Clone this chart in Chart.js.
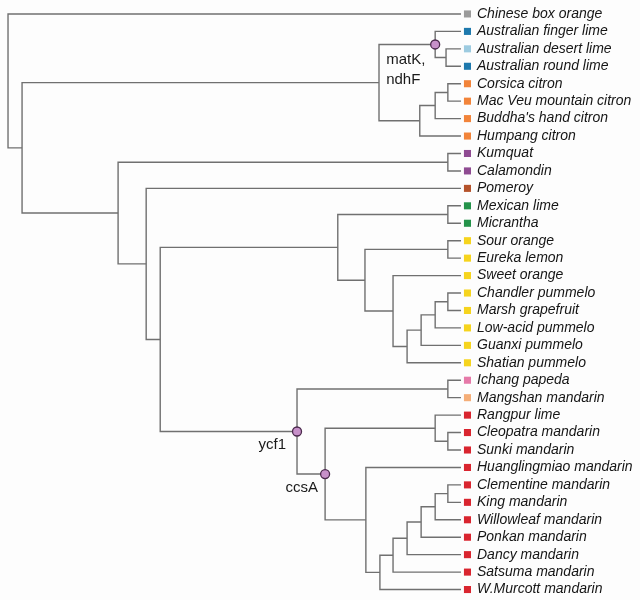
<!DOCTYPE html>
<html>
<head>
<meta charset="utf-8">
<script src="https://cdn.jsdelivr.net/npm/chart.js@4.4.1/dist/chart.umd.min.js"></script>
<style>
  body { margin: 0; background: #fdfdfd; }
  canvas { display: block; }
</style>
</head>
<body>
<canvas id="tree" width="640" height="600"></canvas>
<script>
// 잎 (위에서 아래 순서)
const leafNames = [
    'Chinese box orange', 'Australian finger lime', 'Australian desert lime', 'Australian round lime',
    'Corsica citron', 'Mac Veu mountain citron', "Buddha's hand citron", 'Humpang citron',
    'Kumquat', 'Calamondin', 'Pomeroy', 'Mexican lime', 'Micrantha',
    'Sour orange', 'Eureka lemon', 'Sweet orange', 'Chandler pummelo', 'Marsh grapefruit',
    'Low-acid pummelo', 'Guanxi pummelo', 'Shatian pummelo', 'Ichang papeda', 'Mangshan mandarin',
    'Rangpur lime', 'Cleopatra mandarin', 'Sunki mandarin', 'Huanglingmiao mandarin',
    'Clementine mandarin', 'King mandarin', 'Willowleaf mandarin', 'Ponkan mandarin',
    'Dancy mandarin', 'Satsuma mandarin', 'W.Murcott mandarin'
];
const leafGroups = [
    'box', 'austral', 'desert', 'austral',
    'citron', 'citron', 'citron', 'citron',
    'kumquat', 'kumquat', 'pomeroy', 'lime', 'lime',
    'sweet', 'sweet', 'sweet', 'sweet', 'sweet',
    'sweet', 'sweet', 'sweet', 'papeda', 'mangshan',
    'mandarin', 'mandarin', 'mandarin', 'mandarin',
    'mandarin', 'mandarin', 'mandarin', 'mandarin',
    'mandarin', 'mandarin', 'mandarin'
];

// 내부 노드: 숫자 = 잎 번호, 문자열 = 노드 이름
const nodeNames = ['root', 'a', 'b', 'd', 'f', 'e', 'g', 'h', 'c', 'i', 'j', 'k', 'l', 'm', 'n', 'o',
    'p', 'q', 'r', 't', 's', 'y1', 'u', 'cc', 'v', 'v2', 'w', 'x', 'yy', 'z', 'aa', 'ab', 'ac'];
const nodeKids = [
    [0, 'a'], ['b', 'c'], ['d', 'e'], [1, 'f'], [2, 3], ['g', 7], ['h', 6], [4, 5],
    ['i', 'j'], [8, 9], [10, 'k'], ['l', 'y1'], ['m', 'n'], [11, 12], ['o', 'p'], [13, 14],
    [15, 'q'], ['r', 20], ['t', 19], ['s', 18], [16, 17], ['u', 'cc'], [21, 22], ['v', 'w'],
    [23, 'v2'], [24, 25], [26, 'x'], ['yy', 33], ['z', 32], ['aa', 31], ['ab', 30], ['ac', 29], [27, 28]
];
const nodeDepth = [
    0.000, 0.031, 0.819, 0.943, 0.967, 0.909, 0.943, 0.971,
    0.243, 0.971, 0.305, 0.336, 0.728, 0.971, 0.788, 0.971,
    0.850, 0.881, 0.912, 0.943, 0.971, 0.638, 0.971, 0.700,
    0.943, 0.971, 0.790, 0.821, 0.850, 0.881, 0.912, 0.943, 0.971
];
const tipDepth = 1.0;

// 표시된 노드 (유전자)
const markerNodes = ['d', 'y1', 'cc'];
const markerLabels = [['matK,', 'ndhF'], ['ycf1'], ['ccsA']];

// 스타일
const groupColor = {
    box: '#9b9b9b', austral: '#1e79ad', desert: '#9dcbe0', citron: '#f2843a',
    kumquat: '#8f4b92', pomeroy: '#b5532b', lime: '#24934a', sweet: '#f6d41e',
    papeda: '#e67aa9', mangshan: '#f5ae78', mandarin: '#d9252f'
};
const branchColor = '#707070';
const markerStyle = [
    { dx: -49, dy: 15, align: 'left' },
    { dx: -11, dy: 13, align: 'right' },
    { dx: -7, dy: 14, align: 'right' }
];

// 좌표 계산
const pos = {};
function place(k) {
    if (typeof k === 'number') return { x: tipDepth, y: k };
    const i = nodeNames.indexOf(k);
    const kids = nodeKids[i].map(place);
    const p = { x: nodeDepth[i], y: (kids[0].y + kids[kids.length - 1].y) / 2, kids: kids };
    pos[k] = p;
    return p;
}
place('root');

const datasets = [];

// 가지
nodeNames.forEach(n => {
    const p = pos[n];
    const k0 = p.kids[0], k1 = p.kids[1];
    datasets.push({
        type: 'scatter',
        showLine: true,
        data: [{ x: k0.x, y: k0.y }, { x: p.x, y: k0.y }, { x: p.x, y: k1.y }, { x: k1.x, y: k1.y }],
        borderColor: branchColor,
        borderWidth: 1.4,
        pointRadius: 0,
        tension: 0,
        order: 3
    });
});

// 색 사각형
datasets.push({
    type: 'scatter',
    data: leafNames.map((n, i) => ({ x: tipDepth + 0.0143, y: i })),
    pointStyle: 'rect',
    pointRadius: 5,
    pointBackgroundColor: leafGroups.map(g => groupColor[g]),
    pointBorderWidth: 0,
    order: 2
});

// 원 표시
datasets.push({
    type: 'scatter',
    data: markerNodes.map(n => ({ x: pos[n].x, y: pos[n].y })),
    pointRadius: 4.5,
    pointBackgroundColor: '#c790c9',
    pointBorderColor: '#4b2a4d',
    pointBorderWidth: 1.3,
    order: 1
});

const markerText = {
    id: 'markerText',
    afterDatasetsDraw(chart) {
        const ctx = chart.ctx;
        const xs = chart.scales.x, ys = chart.scales.y;
        ctx.save();
        ctx.font = '15px "Liberation Sans", Arial, sans-serif';
        ctx.fillStyle = '#1a1a1a';
        ctx.textBaseline = 'middle';
        markerNodes.forEach((n, i) => {
            const st = markerStyle[i];
            const cx = xs.getPixelForValue(pos[n].x);
            const cy = ys.getPixelForValue(pos[n].y);
            ctx.textAlign = st.align;
            markerLabels[i].forEach((t, j) => {
                ctx.fillText(t, cx + st.dx, cy + st.dy + j * 20);
            });
        });
        ctx.restore();
    }
};

new Chart(document.getElementById('tree'), {
    type: 'scatter',
    data: { datasets: datasets },
    options: {
        responsive: false,
        animation: false,
        devicePixelRatio: 1,
        layout: { padding: 0, autoPadding: false },
        plugins: { legend: { display: false }, tooltip: { enabled: false } },
        scales: {
            x: {
                type: 'linear',
                display: false,
                min: -0.0177,
                max: 1.0243
            },
            y: {
                type: 'linear',
                position: 'right',
                reverse: true,
                min: -0.8,
                max: 33.6,
                grid: { display: false, drawTicks: false },
                border: { display: false },
                afterBuildTicks(scale) {
                    scale.ticks = leafNames.map((n, i) => ({ value: i }));
                },
                afterFit(scale) {
                    scale.width = 168;
                    scale.paddingTop = 0;
                    scale.paddingBottom = 0;
                },
                ticks: {
                    autoSkip: false,
                    padding: 5,
                    color: '#151515',
                    font: { family: '"Liberation Sans", Arial, sans-serif', size: 14, style: 'italic' },
                    callback: (v) => leafNames[v]
                }
            }
        }
    },
    plugins: [markerText]
});
</script>
</body>
</html>
